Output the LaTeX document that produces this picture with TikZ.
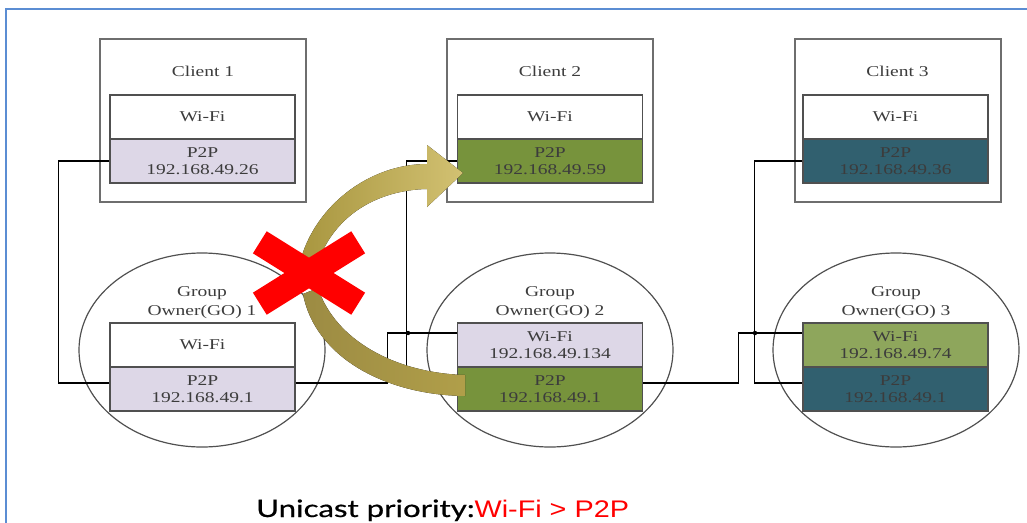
\documentclass[tikz,border=0pt]{standalone}
\usepackage{fontspec}
\setmainfont[FakeStretch=1.3]{Liberation Serif}
\newfontfamily\captionfont[FakeStretch=1.3,FakeBold=0.6]{Lato}
\newfontfamily\accentfont[FakeStretch=1.2]{Liberation Sans}
\usetikzlibrary{shapes.geometric}

\definecolor{frameblue}{HTML}{5B8DD3}
\definecolor{boxgray}{HTML}{6E6E6E}
\definecolor{cellgray}{HTML}{505050}
\definecolor{celltext}{HTML}{3C3C3C}
\definecolor{lav}{HTML}{DDD7E7}
\definecolor{olivecell}{HTML}{77933C}
\definecolor{liteolive}{HTML}{8EA65C}
\definecolor{deepteal}{HTML}{31606F}
\definecolor{arrowlight}{HTML}{D2C172}
\definecolor{arrowdark}{HTML}{A8963F}
\definecolor{arrowlow}{HTML}{9C8B43}

\tikzset{
  clientbox/.style={draw=boxgray, line width=2pt, fill=white,
    minimum width=206pt, minimum height=163pt, inner sep=0pt},
  goshape/.style={ellipse, draw=cellgray, line width=1.2pt,
    minimum width=246pt, minimum height=194pt, inner sep=0pt},
  cell/.style={draw=cellgray, line width=1.4pt, minimum width=185pt,
    minimum height=44pt, inner sep=0pt, align=center, text=celltext,
    font=\fontsize{15}{17.5}\selectfont},
  tag/.style={inner sep=0pt, align=center, text=celltext,
    font=\fontsize{15}{19}\selectfont},
  wire/.style={draw=black, line width=1.3pt},
  jointdot/.style={fill=black},
}

\begin{document}
\begin{tikzpicture}[x=1pt,y=-1pt]
\useasboundingbox (0,0) rectangle (1027,522);

% frame
\draw[frameblue, line width=2pt] (6,530) -- (6,9) -- (1035,9);

% clients
\node[clientbox] (c1) at (203,120.5) {};
\node[clientbox] (c2) at (550,120.5) {};
\node[clientbox] (c3) at (897.5,120.5) {};
\node[tag] (c1lbl) at (203,71) {Client 1};
\node[tag] (c2lbl) at (550,71) {Client 2};
\node[tag] (c3lbl) at (897.5,71) {Client 3};

% group owners
\node[goshape] (go1) at (202,350) {};
\node[goshape] (go2) at (550,350) {};
\node[goshape] (go3) at (896,350) {};
\node[tag] (go1lbl) at (202,302.5) {Group\\Owner(GO) 1};
\node[tag] (go2lbl) at (550,302.5) {Group\\Owner(GO) 2};
\node[tag] (go3lbl) at (896,302.5) {Group\\Owner(GO) 3};

% interface cells
\node[cell, fill=white] (c1wifi) at (202.5,117) {Wi-Fi};
\node[cell, fill=lav] (c1p2p) at (202.5,161) {P2P\\192.168.49.26};
\node[cell, fill=white] (c2wifi) at (550,117) {Wi-Fi};
\node[cell, fill=olivecell] (c2p2p) at (550,161) {P2P\\192.168.49.59};
\node[cell, fill=white] (c3wifi) at (895.5,117) {Wi-Fi};
\node[cell, fill=deepteal] (c3p2p) at (895.5,161) {P2P\\192.168.49.36};

\node[cell, fill=white] (go1wifi) at (202.5,345) {Wi-Fi};
\node[cell, fill=lav] (go1p2p) at (202.5,389) {P2P\\192.168.49.1};
\node[cell, fill=lav] (go2wifi) at (550,345) {Wi-Fi\\192.168.49.134};
\node[cell, fill=olivecell] (go2p2p) at (550,389) {P2P\\192.168.49.1};
\node[cell, fill=liteolive] (go3wifi) at (895.5,345) {Wi-Fi\\192.168.49.74};
\node[cell, fill=deepteal] (go3p2p) at (895.5,389) {P2P\\192.168.49.1};

% wiring
\draw[wire] (c1p2p.west) -- ++(-51,0) |- ([yshift=6pt]go1p2p.west);
\draw[wire] ([yshift=6pt]go1p2p.east) -- ++(92,0) |- ([yshift=12pt]go2wifi.west);
\draw[wire] (c2p2p.west) -- ++(-50,0) |- ([yshift=6pt]go2p2p.west);
\draw[wire] ([yshift=6pt]go2p2p.east) -- ++(95,0) |- ([yshift=12pt]go3wifi.west);
\draw[wire] (c3p2p.west) -- ++(-48,0) |- ([yshift=6pt]go3p2p.west);
\fill[jointdot] (408,333) circle (2.2);
\fill[jointdot] (755,333) circle (2.2);

% unicast paths
\fill[left color=arrowlow, right color=arrowdark!80!arrowlight]
  (318,288) .. controls (335,340) and (395,373) .. (465,375)
  -- (465,396) .. controls (385,395) and (315,357) .. (303,294) -- cycle;
\fill[left color=arrowdark, right color=arrowlight]
  (300,262) .. controls (315,205) and (370,164) .. (427,164)
  -- (427,145) -- (463,173) -- (427,207) -- (427,189)
  .. controls (378,190) and (332,215) .. (316,268) -- cycle;

% blocked path mark
\draw[red, line width=26pt] (259.8,242.3) -- (358.2,303.7);
\draw[red, line width=26pt] (259.8,303.7) -- (358.2,242.3);

% caption
\node[anchor=base west, inner sep=0pt, text=black,
      font=\captionfont\fontsize{24}{28}\selectfont] (caption) at (256,517)
  {Unicast priority:{\accentfont\color{red}Wi-Fi > P2P}};
\end{tikzpicture}
\end{document}
